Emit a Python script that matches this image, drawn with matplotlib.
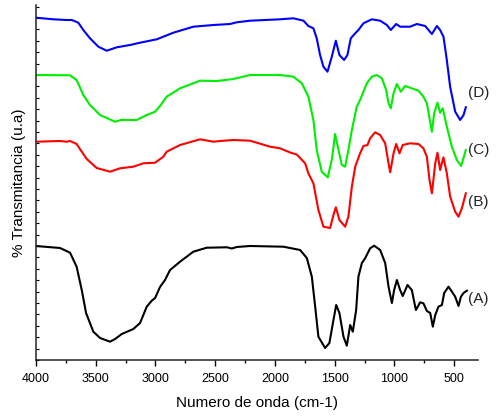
import matplotlib
matplotlib.use("Agg")
import matplotlib.pyplot as plt
from matplotlib.ticker import MultipleLocator, NullFormatter

plt.rcParams['font.family'] = ['Liberation Sans', 'DejaVu Sans']

# Spectrum A (black)
wn_a = [4000, 3799, 3715, 3660, 3617, 3581, 3520, 3464, 3380, 3338, 3282, 3185, 3129, 3073, 3031,
        3003, 2962, 2920, 2878, 2794, 2683, 2571, 2400, 2360, 2320, 2208, 1929, 1789, 1733, 1691,
        1663, 1636, 1580, 1544, 1510, 1487, 1460, 1426, 1398, 1370, 1348, 1320, 1301, 1272, 1245,
        1203, 1169, 1119, 1077, 1049, 1021, 1002, 979, 952, 930, 890, 854, 820, 784, 757, 728, 700,
        678, 658, 631, 602, 583, 547, 511, 491, 463, 443, 421, 393]
t_a = [114, 112, 107.3, 93.3, 70, 47, 28.3, 22, 18.3, 21, 26, 31, 37, 53.3, 59.3,
       62, 73, 80, 90, 98.3, 108.3, 112.3, 112.7, 111.5, 113, 114, 113.3, 110, 102, 83.3,
       53.3, 23.3, 12, 17, 40, 55, 47, 23.3, 14.3, 35, 28.3, 50, 83.3, 97, 101.7,
       111.7, 114.3, 110, 97, 73.3, 57, 70, 80, 70, 64, 75, 70, 50, 57.7, 56.7, 49, 47,
       33.3, 45, 53.3, 55, 67, 73.3, 67, 63.3, 54, 63.3, 67, 69.3]

# Spectrum B (red)
wn_b = [4000, 3799, 3743, 3715, 3660, 3617, 3575, 3492, 3380, 3297, 3185, 3101, 3003, 2934, 2906,
        2794, 2627, 2515, 2460, 2348, 2208, 2040, 1957, 1873, 1817, 1789, 1747, 1720, 1678, 1636,
        1594, 1538, 1510, 1490, 1460, 1412, 1385, 1356, 1328, 1287, 1259, 1225, 1203, 1161, 1119,
        1077, 1049, 1035, 1007, 985, 957, 930, 869, 798, 757, 728, 706, 686, 658, 639, 617, 589,
        561, 533, 491, 463, 435, 402]
t_b = [218.3, 219, 218.3, 219, 216, 208.3, 201, 192, 188.3, 191.7, 193.3, 196.7, 197.3, 203.3, 208.3,
       215, 220.7, 218.3, 219, 220, 219.3, 213.3, 211.7, 207.5, 205.5, 202, 196.7, 186.7, 176.7, 150,
       133.3, 132, 145, 152.7, 140, 133.3, 143.3, 173.3, 193.3, 206.7, 214, 215, 221.7, 227.7, 225,
       216.7, 196.7, 187.7, 206.7, 216, 206.7, 215, 216.7, 216, 211.7, 203.3, 180, 166.7, 196.7, 207.3, 190, 202.7,
       186.7, 163.3, 148.3, 143.3, 151.7, 166.7]

# Spectrum C (green)
wn_c = [4000, 3715, 3660, 3604, 3548, 3464, 3338, 3290, 3157, 3073, 3003, 2962, 2906, 2794, 2627,
        2487, 2348, 2208, 1957, 1845, 1775, 1720, 1678, 1650, 1608, 1558, 1524, 1496, 1468, 1440,
        1412, 1385, 1356, 1315, 1287, 1231, 1189, 1147, 1105, 1069, 1049, 1030, 1007, 979, 946,
        910, 854, 798, 757, 728, 706, 686, 667, 639, 617, 595, 561, 519, 477, 441, 402]
t_c = [285, 284.7, 280, 265, 255, 245, 238.3, 240, 240, 245, 248.3, 254, 263.3, 271.7, 279.3,
       279, 281, 285, 285, 283.3, 276.7, 263.3, 240, 210, 188.3, 182.7, 200, 226, 210, 195,
       193.3, 210, 230, 253.3, 260, 276.7, 283.3, 285, 281.7, 270, 256.7, 251.7, 266.7, 276, 268.3,
       274, 271.7, 269.3, 263.3, 256.7, 241.7, 228.3, 246.7, 257.3, 247.3, 251.7, 233.3, 213.3, 200, 194, 210]

# Spectrum D (blue)
wn_d = [4000, 3855, 3743, 3700, 3646, 3604, 3548, 3478, 3408, 3324, 3213, 3129, 2989, 2850, 2683,
        2515, 2375, 2320, 2208, 1957, 1845, 1761, 1720, 1678, 1650, 1622, 1594, 1560, 1524, 1490,
        1460, 1421, 1393, 1365, 1328, 1301, 1259, 1189, 1119, 1063, 1030, 985, 952, 869, 812, 742,
        714, 686, 644, 617, 589, 561, 533, 505, 491, 449, 421, 402]
t_d = [342.3, 340.7, 340, 340, 337.3, 330, 321.7, 313.3, 309.3, 312.7, 315, 317.3, 320.7, 327.3, 333.3,
       335, 336, 337.7, 339.3, 340.7, 341.7, 339.3, 334, 331.7, 321.7, 305, 293.3, 288.3, 303.3, 319.3,
       305, 300, 305, 321.7, 326.7, 330, 336.7, 340.7, 339.3, 335, 330, 336, 333.3, 333.3, 336, 334,
       330, 326, 334, 330, 323.3, 300, 273, 256.7, 248.3, 240, 245, 252.7]

labels = ['(A)', '(B)', '(C)', '(D)']
label_y = [61, 158, 210, 267]
label_x = 380

fig = plt.figure(figsize=(5.0, 4.17), dpi=100)
ax = fig.add_axes([0.072, 0.1367, 0.884, 0.8513])

lw = 1.5
ax.plot(wn_a, t_a, color='black', lw=lw)
ax.plot(wn_b, t_b, color='#ff0000', lw=lw)
ax.plot(wn_c, t_c, color='#00ee00', lw=lw)
ax.plot(wn_d, t_d, color='#0000ff', lw=lw)

for lab, yy in zip(labels, label_y):
    ax.text(label_x, yy, lab, fontsize=11, ha='left', va='center', color='#222222', clip_on=False)

ax.set_xlim(4000, 300)
ax.set_ylim(0, 355)
ax.spines['top'].set_visible(False)
ax.spines['right'].set_visible(False)
for s in ('left', 'bottom'):
    ax.spines[s].set_linewidth(1.1)
    ax.spines[s].set_color('#222222')

ax.xaxis.set_major_locator(MultipleLocator(500))
ax.xaxis.set_minor_locator(MultipleLocator(250))
ax.tick_params(axis='x', which='major', direction='out', length=4, width=1, labelsize=9, pad=5.5)
ax.tick_params(axis='x', which='minor', direction='out', length=2.5, width=1)

ax.yaxis.set_major_locator(MultipleLocator(11.4))
ax.yaxis.set_major_formatter(NullFormatter())
ax.tick_params(axis='y', which='major', direction='in', length=1.8, width=0.8)

ax.set_xlabel('Numero de onda (cm-1)', fontsize=11, labelpad=8)
ax.set_ylabel('% Transmitancia (u.a)', fontsize=11, labelpad=4)

fig.savefig('out.png', dpi=100)
